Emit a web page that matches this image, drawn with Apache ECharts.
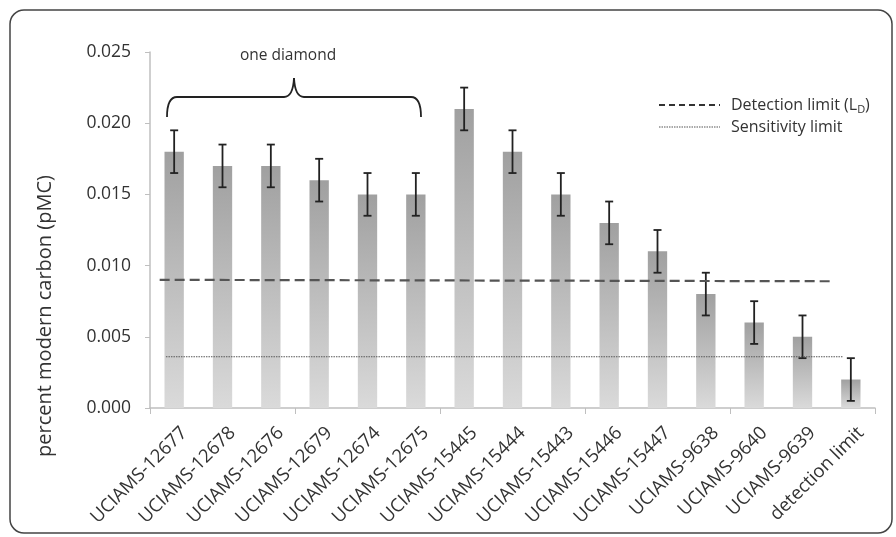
<!DOCTYPE html>
<html><head><meta charset="utf-8">
<script src="https://cdn.jsdelivr.net/npm/echarts@6/dist/echarts.min.js"></script>
<style>html,body{margin:0;padding:0;background:#fff}#c{width:896px;height:537px}</style>
</head><body><div id="c"></div>
<script>
var categories = ['UCIAMS-12677','UCIAMS-12678','UCIAMS-12676','UCIAMS-12679','UCIAMS-12674','UCIAMS-12675','UCIAMS-15445','UCIAMS-15444','UCIAMS-15443','UCIAMS-15446','UCIAMS-15447','UCIAMS-9638','UCIAMS-9640','UCIAMS-9639','detection limit'];
var values = [0.018,0.017,0.017,0.016,0.015,0.015,0.021,0.018,0.015,0.013,0.011,0.008,0.006,0.005,0.002];
var errors = [0.0015,0.0015,0.0015,0.0015,0.0015,0.0015,0.0015,0.0015,0.0015,0.0015,0.0015,0.0015,0.0015,0.0015,0.0015];
var detectionLimit = [[0.2,0.009],[14.15,0.0089]];
var sensitivityLimit = [[0.33,0.0036],[14.33,0.0036]];

var font = '"Open Sans", "Liberation Sans", sans-serif';
var chart = echarts.init(document.getElementById('c'));
var errData = values.map(function(v,i){return [i, v-errors[i], v+errors[i]];});
var braceStyle = {fill:'none',stroke:'#222',lineWidth:1.8};
chart.setOption({
  animation:false,
  grid:[{left:150,right:21,top:52,bottom:129},{left:160,right:11,top:52,bottom:129}],
  xAxis:[{
    type:'category', data:categories,
    axisLine:{lineStyle:{color:'#bfbfbf',width:1.5}},
    axisTick:{show:true,length:6,lineStyle:{color:'#bfbfbf'},alignWithLabel:false},
    axisLabel:{show:false}
  },{
    type:'value', min:0, max:15, show:false
  },{
    type:'category', data:categories, gridIndex:1,
    axisLine:{show:false}, axisTick:{show:false},
    axisLabel:{rotate:45,fontFamily:font,fontSize:18.5,color:'#333',margin:22,interval:0}
  }],
  yAxis:[{
    type:'value', min:0, max:0.025, interval:0.005,
    axisLine:{show:true,lineStyle:{color:'#bfbfbf',width:1.5}},
    axisTick:{show:true,length:5,lineStyle:{color:'#bfbfbf'}},
    splitLine:{show:false},
    axisLabel:{fontFamily:font,fontSize:17.5,color:'#333',margin:19,
      formatter:function(v){return v.toFixed(3);}}
  },{
    type:'value', gridIndex:1, show:false, min:0, max:1
  }],
  series:[{
    type:'bar', data:values, barWidth:'40%',
    itemStyle:{color:new echarts.graphic.LinearGradient(0,0,0,1,[{offset:0,color:'#a0a0a0'},{offset:1,color:'#dadada'}])}
  },{
    type:'custom', data:errData, z:5,
    renderItem:function(params,api){
      var x=api.value(0), lo=api.coord([x,api.value(1)]), hi=api.coord([x,api.value(2)]);
      var cx=lo[0], w=4;
      var st={stroke:'#222',lineWidth:1.8};
      return {type:'group',children:[
        {type:'line',shape:{x1:cx,y1:lo[1],x2:cx,y2:hi[1]},style:st},
        {type:'line',shape:{x1:cx-w,y1:lo[1],x2:cx+w,y2:lo[1]},style:st},
        {type:'line',shape:{x1:cx-w,y1:hi[1],x2:cx+w,y2:hi[1]},style:st}
      ]};
    }
  },{
    type:'line', xAxisIndex:1, data:detectionLimit, symbol:'none', z:6,
    lineStyle:{color:'#555',width:2.2,type:[10,5]}
  },{
    type:'line', xAxisIndex:1, data:sensitivityLimit, symbol:'none', z:6,
    lineStyle:{color:'#555',width:1.2,type:[1.5,1]}
  }],
  graphic:[
    {type:'rect',shape:{x:10,y:10,width:882,height:523,r:14},style:{fill:'none',stroke:'#444',lineWidth:1.5}},
    {type:'text',x:45,y:316,rotation:Math.PI/2,style:{x:0,y:0,text:'percent modern carbon (pMC)',fontFamily:font,fontSize:20,fill:'#333',textAlign:'center',textVerticalAlign:'middle'}},
    {type:'bezierCurve',shape:{x1:167,y1:117,x2:177,y2:97,cpx1:167,cpy1:97},style:braceStyle},
    {type:'line',shape:{x1:177,y1:97,x2:284,y2:97},style:braceStyle},
    {type:'bezierCurve',shape:{x1:284,y1:97,x2:294,y2:78,cpx1:293,cpy1:97},style:braceStyle},
    {type:'bezierCurve',shape:{x1:294,y1:78,x2:304,y2:97,cpx1:295,cpy1:97},style:braceStyle},
    {type:'line',shape:{x1:304,y1:97,x2:411,y2:97},style:braceStyle},
    {type:'bezierCurve',shape:{x1:411,y1:97,x2:421,y2:117,cpx1:421,cpy1:97},style:braceStyle},
    {type:'text',style:{x:288,y:56,text:'one diamond',fontFamily:font,fontSize:15.5,fill:'#333',textAlign:'center',textVerticalAlign:'middle'}},
    {type:'line',shape:{x1:659,y1:105,x2:720,y2:105},style:{stroke:'#333',lineWidth:1.8,lineDash:[6,4]}},
    {type:'line',shape:{x1:659,y1:127,x2:720,y2:127},style:{stroke:'#555',lineWidth:1.2,lineDash:[1.5,1]}},
    {type:'text',style:{x:731,y:105,text:'Detection limit (L{s|D})',rich:{s:{fontSize:11,fontFamily:font,fill:'#333',verticalAlign:'bottom',padding:[9,0,0,0]}},fontFamily:font,fontSize:16,fill:'#333',textVerticalAlign:'middle'}},
    {type:'text',style:{x:731,y:127,text:'Sensitivity limit',fontFamily:font,fontSize:16,fill:'#333',textVerticalAlign:'middle'}}
  ]
});
</script></body></html>
